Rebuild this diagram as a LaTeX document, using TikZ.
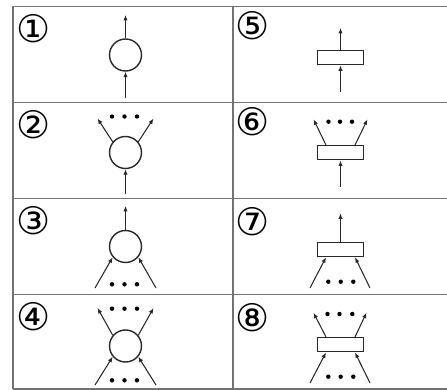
\documentclass[tikz,border=0pt]{standalone}
\usepackage{fontspec}
\newfontfamily\numfont{DejaVu Sans}
\usetikzlibrary{arrows.meta}
\definecolor{gridc}{RGB}{115,115,115}
\definecolor{inkc}{RGB}{40,40,40}
\tikzset{
  grid line/.style={draw=gridc, line width=1.8pt},
  neuron/.style={circle, draw=inkc, line width=1.4pt, minimum size=32pt, inner sep=0pt},
  unitbox/.style={rectangle, draw=inkc, line width=1.4pt, minimum width=46pt, minimum height=14pt, inner sep=0pt},
  arr/.style={draw=inkc, line width=1.05pt, -{Latex[length=5.5pt,width=4.4pt]}},
  dotc/.style={circle, fill=black, inner sep=0pt, minimum size=4.4pt},
  lbl/.style={inner sep=0pt, font=\numfont\fontsize{38pt}{38pt}\selectfont}
}
\begin{document}
\begin{tikzpicture}[x=1pt,y=-1pt]
\useasboundingbox (0,0) rectangle (447,390);
% table
\draw[grid line] (13,6.5) -- (450,6.5);
\draw[grid line] (13,102.5) -- (450,102.5);
\draw[grid line] (13,198.5) -- (450,198.5);
\draw[grid line] (13,294.5) -- (450,294.5);
\draw[grid line] (13,389) -- (450,389);
\draw[grid line] (13,6.5) -- (13,389);
\draw[grid line] (232.8,6.5) -- (232.8,389);
% labels
\node[lbl] (l1) at (33.5,28.5) {①};
\node[lbl] (l2) at (33.5,124.5) {②};
\node[lbl] (l3) at (33.5,220.5) {③};
\node[lbl] (l4) at (33.5,316.5) {④};
\node[lbl] (l5) at (252.5,26) {⑤};
\node[lbl] (l6) at (252.5,122) {⑥};
\node[lbl] (l7) at (252.5,221.5) {⑦};
\node[lbl] (l8) at (252.5,317.5) {⑧};
% cell 1
\node[neuron] (c1) at (125.5,55) {};
\coordinate (c1t) at (125.5,15);
\coordinate (c1b) at (125.5,98);
\draw[arr] (c1.north) -- (c1t);
\draw[arr] (c1b) -- (c1.south);
% cell 2
\node[neuron] (c2) at (125.5,152.5) {};
\coordinate (c2l) at (97.5,118.5);
\coordinate (c2r) at (153.5,118.5);
\coordinate (c2b) at (125.5,194);
\draw[arr] (c2.140) -- (c2l);
\draw[arr] (c2.40) -- (c2r);
\draw[arr] (c2b) -- (c2.south);
\node[dotc] (d2a) at (112,116.5) {};
\node[dotc] (d2b) at (124.5,116.5) {};
\node[dotc] (d2c) at (137,116.5) {};
% cell 3
\node[neuron] (c3) at (125.5,246.5) {};
\coordinate (c3t) at (125.5,206);
\coordinate (c3l) at (95,288);
\coordinate (c3r) at (156,288);
\draw[arr] (c3.north) -- (c3t);
\draw[arr] (c3l) -- (c3.220);
\draw[arr] (c3r) -- (c3.320);
\node[dotc] (d3a) at (112,284.3) {};
\node[dotc] (d3b) at (124.5,284.3) {};
\node[dotc] (d3c) at (137,284.3) {};
% cell 4
\node[neuron] (c4) at (125.5,346) {};
\coordinate (c4ul) at (97.5,308);
\coordinate (c4ur) at (153.5,308);
\coordinate (c4ll) at (95,385);
\coordinate (c4lr) at (156,385);
\draw[arr] (c4.140) -- (c4ul);
\draw[arr] (c4.40) -- (c4ur);
\draw[arr] (c4ll) -- (c4.220);
\draw[arr] (c4lr) -- (c4.320);
\node[dotc] (d4a) at (112,308.7) {};
\node[dotc] (d4b) at (124.5,308.7) {};
\node[dotc] (d4c) at (137,308.7) {};
\node[dotc] (d4d) at (112,380.3) {};
\node[dotc] (d4e) at (124.5,380.3) {};
\node[dotc] (d4f) at (137,380.3) {};
% cell 5
\node[unitbox] (r5) at (340.5,57.7) {};
\coordinate (r5t) at (340.5,28);
\coordinate (r5b) at (340.5,91.7);
\draw[arr] (r5.north) -- (r5t);
\draw[arr] (r5b) -- (r5.south);
% cell 6
\node[unitbox] (r6) at (340.5,152.8) {};
\coordinate (r6l) at (313.5,119.3);
\coordinate (r6r) at (367.5,119.3);
\coordinate (r6b) at (340.5,186.7);
\draw[arr] (r6.152) -- (r6l);
\draw[arr] (r6.28) -- (r6r);
\draw[arr] (r6b) -- (r6.south);
\node[dotc] (d6a) at (328.5,121.7) {};
\node[dotc] (d6b) at (340,121.7) {};
\node[dotc] (d6c) at (352,121.7) {};
% cell 7
\node[unitbox] (r7) at (340.5,249.5) {};
\coordinate (r7t) at (340.5,213.3);
\coordinate (r7l) at (310,288);
\coordinate (r7r) at (370,288);
\draw[arr] (r7.north) -- (r7t);
\draw[arr] (r7l) -- (r7.208);
\draw[arr] (r7r) -- (r7.332);
\node[dotc] (d7a) at (328.3,281.7) {};
\node[dotc] (d7b) at (340.7,281.7) {};
\node[dotc] (d7c) at (353.3,281.7) {};
% cell 8
\node[unitbox] (r8) at (340.5,344.7) {};
\coordinate (r8ul) at (313.5,312.7);
\coordinate (r8ur) at (366.5,312.7);
\coordinate (r8ll) at (310,383);
\coordinate (r8lr) at (370,383);
\draw[arr] (r8.152) -- (r8ul);
\draw[arr] (r8.28) -- (r8ur);
\draw[arr] (r8ll) -- (r8.208);
\draw[arr] (r8lr) -- (r8.332);
\node[dotc] (d8a) at (327.5,314) {};
\node[dotc] (d8b) at (339.5,314) {};
\node[dotc] (d8c) at (352.3,314) {};
\node[dotc] (d8d) at (328.3,376.7) {};
\node[dotc] (d8e) at (340.7,376.7) {};
\node[dotc] (d8f) at (353.3,376.7) {};
\end{tikzpicture}
\end{document}
